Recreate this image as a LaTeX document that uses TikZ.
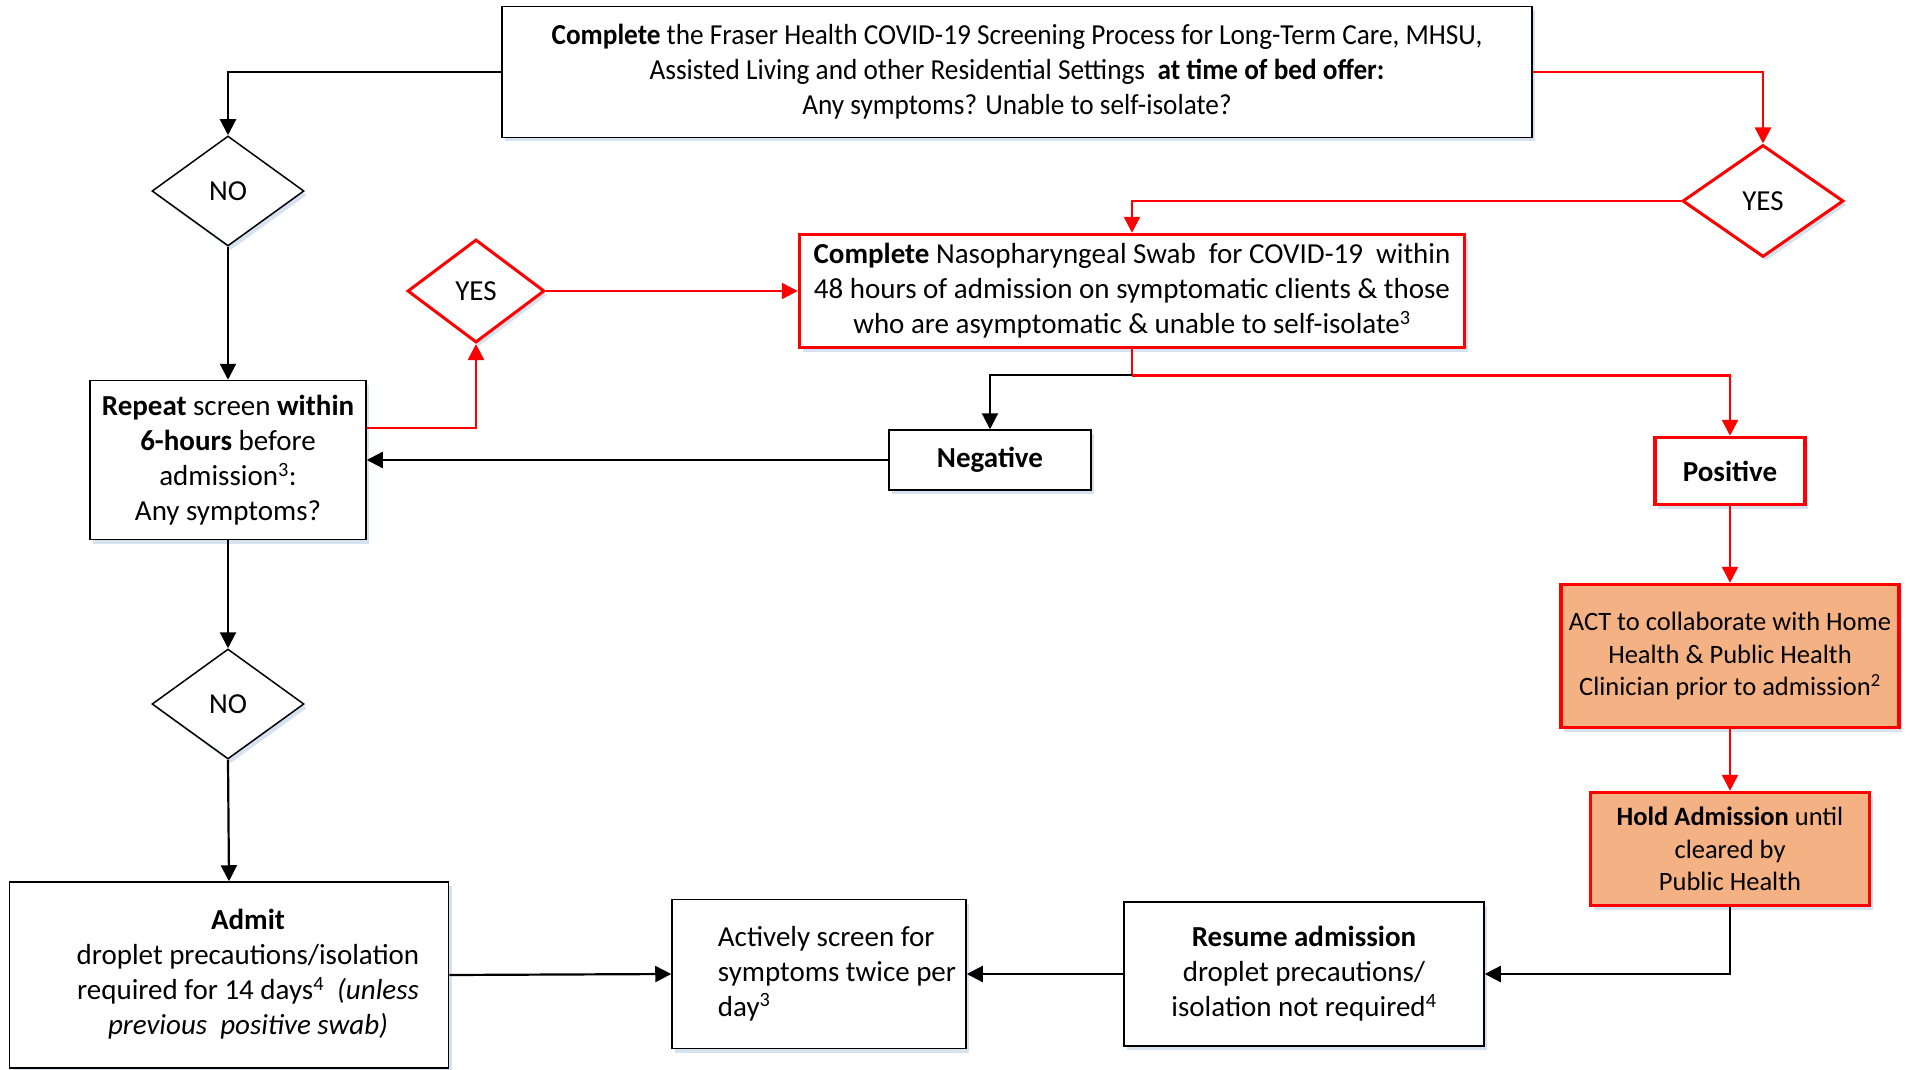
\documentclass[tikz,border=0pt]{standalone}
\usepackage{fontspec}
\setmainfont{Carlito}
\newfontfamily\narrowcarlito[FakeStretch=0.94]{Carlito}
\usetikzlibrary{shapes.geometric,arrows.meta,shadows}

\definecolor{actorange}{RGB}{244,177,131}
\definecolor{shadowblue}{RGB}{196,213,234}

\tikzset{
	box/.style={draw=black, line width=1.5pt, fill=white, align=center, inner sep=4pt,
		font=\fontsize{29}{35}\selectfont,
		drop shadow={fill=shadowblue, opacity=0.7, shadow xshift=3pt, shadow yshift=-4pt}},
	redbox/.style={box, draw=red, line width=3.5pt},
	hotbox/.style={redbox, fill=actorange, font=\fontsize{26.5}{32.5}\selectfont},
	decision/.style={box, diamond, inner sep=0pt},
	reddecision/.style={decision, draw=red, line width=3pt},
	flow/.style={line width=2.2pt, -{Triangle[length=16pt,width=16pt]}},
	redflow/.style={flow, red, line width=2.6pt},
}

\begin{document}
\begin{tikzpicture}[x=1pt, y=-1pt]
			\useasboundingbox (0, 0) rectangle (1912, 1070);

			% screening at bed offer
			\node[box, minimum width=1030pt, minimum height=131pt,
				font=\narrowcarlito\fontsize{29}{35}\selectfont] (screen) at (1017, 72)
			{\textbf{Complete} the Fraser Health COVID-19 Screening Process for Long-Term Care, MHSU,\\
			Assisted Living and other Residential Settings \ \textbf{at time of bed offer:}\\
			Any symptoms? Unable to self-isolate?};

			\node[decision, minimum width=152pt, minimum height=110pt] (noA) at (228, 191) {NO};
			\node[reddecision, minimum width=161pt, minimum height=112pt] (yesA) at (1763, 201) {YES};
			\node[reddecision, minimum width=137pt, minimum height=103pt] (yesB) at (476, 291) {YES};

			\node[redbox, minimum width=665pt, minimum height=113pt] (swab) at (1132, 291)
			{\textbf{Complete} Nasopharyngeal Swab \ for COVID-19 \ within\\
			48 hours of admission on symptomatic clients \& those\\
			who are asymptomatic \& unable to self-isolate\textsuperscript{3}};

			\node[box, minimum width=276pt, minimum height=159pt] (repeat) at (228, 460)
			{\textbf{Repeat} screen \textbf{within}\\ \textbf{6-hours} before\\
			admission\textsuperscript{3}:\\ Any symptoms?};

			\node[box, minimum width=202pt, minimum height=60pt] (neg) at (990, 460) {\textbf{Negative}};
			\node[redbox, minimum width=150pt, minimum height=67pt] (pos) at (1730, 471) {\textbf{Positive}};

			\node[hotbox, minimum width=338pt, minimum height=143pt] (act) at (1730, 656)
			{ACT to collaborate with Home\\ Health \& Public Health\\
			Clinician prior to admission\textsuperscript{2}};
			\node[hotbox, minimum width=279pt, minimum height=113pt] (hold) at (1730, 849)
			{\textbf{Hold Admission} until\\ cleared by\\ Public Health};

			\node[decision, minimum width=152pt, minimum height=110pt] (noB) at (228, 704) {NO};

			% bottom row
			\node[box, minimum width=439pt, minimum height=186pt] (admit) at (229, 975)
			{\hspace*{38pt}\begin{tabular}{c}
				\textbf{Admit}\\ droplet precautions/isolation\\
				required for 14 days\textsuperscript{4} \ \textit{(unless}\\ \textit{previous \ positive swab)}
			\end{tabular}};
			\node[box, minimum width=294pt, minimum height=149pt] (screentwice) at (819, 974)
			{\hspace*{36pt}\begin{tabular}{@{}l@{}}
				Actively screen for\\ symptoms twice per\\ day\textsuperscript{3}
			\end{tabular}};
			\node[box, minimum width=360pt, minimum height=144pt] (resume) at (1304, 974)
			{\textbf{Resume admission}\\ droplet precautions/\\ isolation not required\textsuperscript{4}};

			% connectors
			\coordinate (split) at ([yshift=-26pt]swab.south);
			\coordinate (repeatout) at ([yshift=32pt]repeat.east);

			\draw[flow] (screen.west) -| (noA.north);
			\draw[redflow] (screen.east) -| (yesA.north);
			\draw[redflow] (yesA.west) -| (swab.north);
			\draw[flow] (noA.south) -- (repeat.north);
			\draw[redflow] (repeatout) -| (yesB.south);
			\draw[redflow] (yesB.east) -- (swab.west);

			\draw[red, line width=2.6pt] (swab.south) -- (split);
			\draw[flow] (split) -| (neg.north);
			\draw[redflow] (split) -| (pos.north);
			\draw[flow] (neg.west) -- (repeat.east);

			\draw[redflow] (pos.south) -- (act.north);
			\draw[redflow] (act.south) -- (hold.north);
			\draw[flow] (hold.south) |- (resume.east);
			\draw[flow] (resume.west) -- (screentwice.east);

			\draw[flow] (repeat.south) -- (noB.north);
			\draw[flow] (noB.south) -- (admit.north);
			\draw[flow] (admit.east) -- (screentwice.west);

		\end{tikzpicture}
\end{document}
